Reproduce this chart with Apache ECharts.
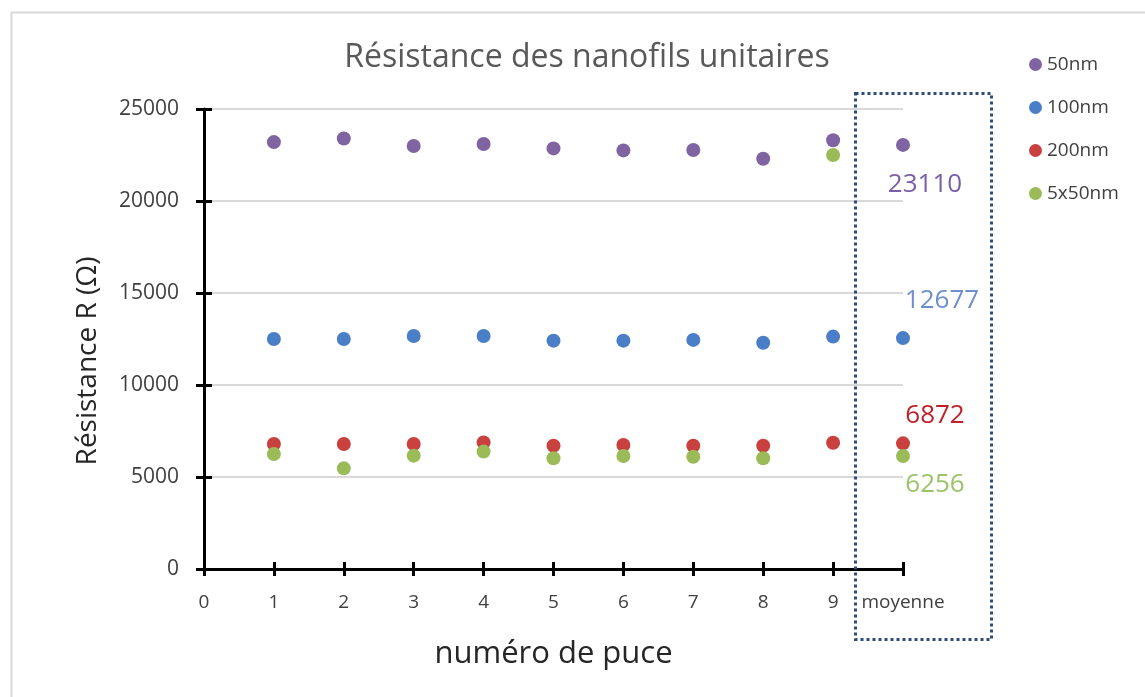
<!DOCTYPE html>
<html>
<head>
<meta charset="utf-8">
<script src="https://cdn.jsdelivr.net/npm/echarts@6/dist/echarts.min.js"></script>
<style>html,body{margin:0;padding:0;background:#fff;}#c{width:1145px;height:697px;}</style>
</head>
<body>
<div id="c"></div>
<script>
const xValues = [1, 2, 3, 4, 5, 6, 7, 8, 9, 10];
const xTickLabels = {0:'0',1:'1',2:'2',3:'3',4:'4',5:'5',6:'6',7:'7',8:'8',9:'9',10:'moyenne'};
const seriesNames = ['50nm', '100nm', '200nm', '5x50nm'];
const s50 = [23200, 23400, 22990, 23100, 22860, 22750, 22770, 22300, 23300, 23050];
const s100 = [12500, 12500, 12660, 12660, 12410, 12410, 12450, 12300, 12630, 12550];
const s200 = [6790, 6790, 6790, 6880, 6700, 6740, 6700, 6700, 6860, 6830];
const s5x50 = [6250, 5470, 6160, 6380, 6020, 6140, 6100, 6020, 22500, 6140];
const meanLabels = ['23110', '12677', '6872', '6256'];

const colors = ['#8064A2', '#4A7EC7', '#C9413F', '#9BBB59'];
const labelColors = ['#7A5EA8', '#6E8FCF', '#C0202A', '#9BC46A'];
const labelOffsets = [[22, 40], [39, -37], [32, -28], [32, 29]];
const allData = [s50, s100, s200, s5x50];
const FONT = 'Open Sans';

const series = allData.map((arr, si) => ({
  name: seriesNames[si],
  type: 'scatter',
  symbol: 'circle',
  symbolSize: 14,
  itemStyle: {color: colors[si], opacity: 1},
  data: arr.map((v, i) => {
    const item = {value: [xValues[i], v]};
    if (xValues[i] === 10) {
      item.label = {
        show: true, position: 'inside', formatter: meanLabels[si],
        offset: labelOffsets[si], color: labelColors[si],
        fontFamily: FONT, fontSize: 26
      };
    }
    return item;
  }),
  z: 3 + si
}));

const chart = echarts.init(document.getElementById('c'), null, {renderer: 'canvas'});
chart.setOption({
  animation: false,
  backgroundColor: '#fff',
  title: {
    text: 'Résistance des nanofils unitaires',
    left: 582, top: 37, textAlign: 'center',
    textStyle: {fontFamily: FONT, fontSize: 32, fontWeight: 'normal', color: '#595959'}
  },
  legend: {
    orient: 'vertical', left: 1024, top: 50, itemGap: 24,
    icon: 'circle', itemWidth: 13, itemHeight: 13,
    data: seriesNames,
    textStyle: {fontFamily: FONT, fontSize: 19, color: '#404040'}
  },
  grid: {left: 204, top: 109, right: 242, bottom: 128, containLabel: false},
  xAxis: [{
    type: 'value', min: 0, max: 10, interval: 1,
    name: 'numéro de puce', nameLocation: 'middle', nameGap: 70,
    nameTextStyle: {fontFamily: FONT, fontSize: 31, color: '#262626'},
    axisLine: {show: true, onZero: false, lineStyle: {color: '#000', width: 3}},
    axisTick: {show: true, inside: false, length: 7, lineStyle: {color: '#000', width: 3}},
    axisLabel: {fontFamily: FONT, fontSize: 19, color: '#404040', margin: 24,
      formatter: v => xTickLabels[v]},
    splitLine: {show: false}
  }, {
    type: 'value', min: 0, max: 10, interval: 1, position: 'bottom',
    axisLine: {show: false, onZero: false},
    axisTick: {show: true, inside: true, length: 7, lineStyle: {color: '#000', width: 3}},
    axisLabel: {show: false}, splitLine: {show: false}
  }],
  yAxis: [{
    type: 'value', min: 0, max: 25000, interval: 5000,
    name: 'Résistance R (Ω)', nameLocation: 'middle', nameGap: 102, nameRotate: 90,
    nameTextStyle: {fontFamily: FONT, fontSize: 28, color: '#262626', padding: [0, 44, 0, 0]},
    axisLine: {show: true, onZero: false, lineStyle: {color: '#000', width: 3}},
    axisTick: {show: true, inside: false, length: 8, lineStyle: {color: '#000', width: 3}},
    axisLabel: {fontFamily: FONT, fontSize: 21, color: '#404040', margin: 25,
      formatter: v => String(v)},
    splitLine: {show: true, lineStyle: {color: '#D9D9D9', width: 2}}
  }, {
    type: 'value', min: 0, max: 25000, interval: 5000, position: 'left',
    axisLine: {show: false, onZero: false},
    axisTick: {show: true, inside: true, length: 8, lineStyle: {color: '#000', width: 3}},
    axisLabel: {show: false}, splitLine: {show: false}
  }],
  graphic: [{
    type: 'rect', left: 9, top: 10, z: -10,
    shape: {width: 1160, height: 720},
    style: {fill: 'none', stroke: '#D9D9D9', lineWidth: 2}
  }, {
    type: 'rect', left: 853, top: 91, z: 10,
    shape: {width: 136, height: 546},
    style: {fill: 'none', stroke: '#2E4B7A', lineWidth: 3, lineDash: [3, 3]}
  }],
  series: series
});
</script>
</body>
</html>
